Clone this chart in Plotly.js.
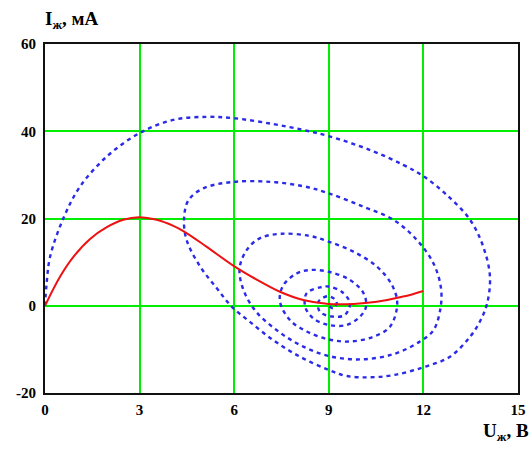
<!DOCTYPE html>
<html>
<head>
<meta charset="utf-8">
<script src="https://cdn.plot.ly/plotly-3.0.1.min.js"></script>
<style>html,body{margin:0;padding:0;background:#fff;}#chart{width:532px;height:450px;}</style>
</head>
<body>
<div id="chart"></div>
<script>
// Red solid curve: I(U)
const curveU = [0, 0.48, 0.9, 1.43, 1.96, 2.48, 2.98, 3.54, 4.07, 4.44, 5.13, 5.97, 6.71, 7.45, 8.19, 8.99, 9.78, 10.52, 11.36, 12.0];
const curveI = [0, 6.7, 11.2, 15.3, 18.0, 19.7, 20.3, 19.7, 18.3, 16.9, 13.5, 9.2, 6.0, 3.2, 1.3, 0.4, 0.4, 0.9, 2.1, 3.4];

// Blue dotted spiral (phase trajectory)
const spiralU = [0, 0.05, 0.16, 0.58, 1.11, 1.96, 2.98, 4.07, 5.13, 5.97, 7.2, 8.19, 8.99, 10.31, 11.36, 12.0, 12.74, 13.48, 13.9, 14.11, 14.02, 13.8, 13.48, 12.84, 12.0, 11.05, 10.31, 9.57, 8.99, 8.09, 7.24, 6.5, 5.92, 5.45, 4.92, 4.49, 4.41, 4.55, 5.02, 5.97, 7.14, 8.19, 8.99, 10.1, 11.05, 11.79, 12.32, 12.55, 12.55, 12.32, 11.89, 11.05, 9.99, 8.99, 8.09, 7.35, 6.7, 6.3, 6.17, 6.4, 6.82, 7.5, 8.4, 8.99, 9.78, 10.52, 11.0, 11.17, 10.94, 10.41, 9.67, 8.99, 8.3, 7.77, 7.45, 7.55, 7.98, 8.4, 8.99, 9.67, 10.1, 10.18, 9.99, 9.57, 8.99, 8.51, 8.25, 8.3, 8.72, 8.99, 9.41, 9.67, 9.51, 9.14, 8.72, 8.67, 8.99, 9.25, 9.14, 9.0];
const spiralI = [0, 5, 11.2, 20, 27.3, 34.2, 39.5, 42.6, 43.3, 43.0, 41.7, 40.3, 38.9, 35.7, 32.3, 29.7, 25.4, 19.7, 13.5, 6.7, 0.5, -3.5, -7.1, -11.7, -14.1, -15.9, -16.4, -16.1, -14.7, -11.7, -7.9, -3.7, -0.2, 4.0, 9.0, 15.1, 20, 24.2, 26.9, 28.4, 28.4, 27.4, 25.8, 22.7, 19.7, 15.1, 9.7, 4.4, -0.2, -5.6, -8.2, -11.1, -12.3, -11.5, -9.0, -5.6, -1.4, 3.5, 8.5, 12.8, 15.5, 16.5, 16.0, 14.7, 12.4, 9.0, 4.8, 0.5, -4.8, -7.1, -8.2, -7.7, -5.9, -3.3, 1.0, 4.6, 7.4, 8.2, 7.8, 5.9, 2.9, -0.2, -2.5, -4.4, -4.4, -2.9, -0.2, 2.9, 4.2, 4.4, 3.2, 0.6, -2.1, -2.5, -1.4, 0.9, 2.2, 0.9, -0.6, 0];

const xTicks = [0, 3, 6, 9, 12, 15];
const yTicks = [-20, 0, 20, 40, 60];

const tickFont = {family: 'Liberation Serif, Times New Roman, serif', size: 15, color: '#000', weight: 'bold'};

const traces = [
  {x: spiralU, y: spiralI, type: 'scatter', mode: 'lines', line: {color: '#2a2ae8', width: 2.4, dash: '4px,4px', shape: 'spline', smoothing: 1}, hoverinfo: 'none'},
  {x: curveU, y: curveI, type: 'scatter', mode: 'lines', line: {color: '#ee1111', width: 2, shape: 'spline', smoothing: 1}, hoverinfo: 'none'}
];

const layout = {
  width: 532, height: 450,
  margin: {l: 45, r: 14, t: 44, b: 57},
  paper_bgcolor: '#fff', plot_bgcolor: '#fff',
  showlegend: false,
  xaxis: {range: [0, 15], tickvals: xTicks, ticktext: xTicks.map(String), showgrid: true, gridcolor: '#00ee00', gridwidth: 2, zeroline: false,
          showline: true, linecolor: '#111', linewidth: 2, mirror: true, ticks: '', tickfont: tickFont, ticklabelstandoff: 2},
  yaxis: {range: [-20, 60], tickvals: yTicks, ticktext: yTicks.map(String), showgrid: true, gridcolor: '#00ee00', gridwidth: 2, zeroline: false,
          showline: true, linecolor: '#111', linewidth: 2, mirror: true, ticks: '', tickfont: tickFont, ticklabelstandoff: 4},
  annotations: [
    {xref: 'paper', yref: 'paper', x: -0.005, y: 1.069, xanchor: 'left', yanchor: 'middle', showarrow: false,
     text: 'I<sub>ж</sub>, мА', font: {family: 'Liberation Serif, Times New Roman, serif', size: 19, color: '#000', weight: 'bold'}},
    {xref: 'paper', yref: 'paper', x: 1.027, y: -0.112, xanchor: 'right', yanchor: 'middle', showarrow: false,
     text: 'U<sub>ж</sub>, В', font: {family: 'Liberation Serif, Times New Roman, serif', size: 19, color: '#000', weight: 'bold'}}
  ]
};

Plotly.newPlot('chart', traces, layout, {staticPlot: true, displayModeBar: false});
</script>
</body>
</html>
